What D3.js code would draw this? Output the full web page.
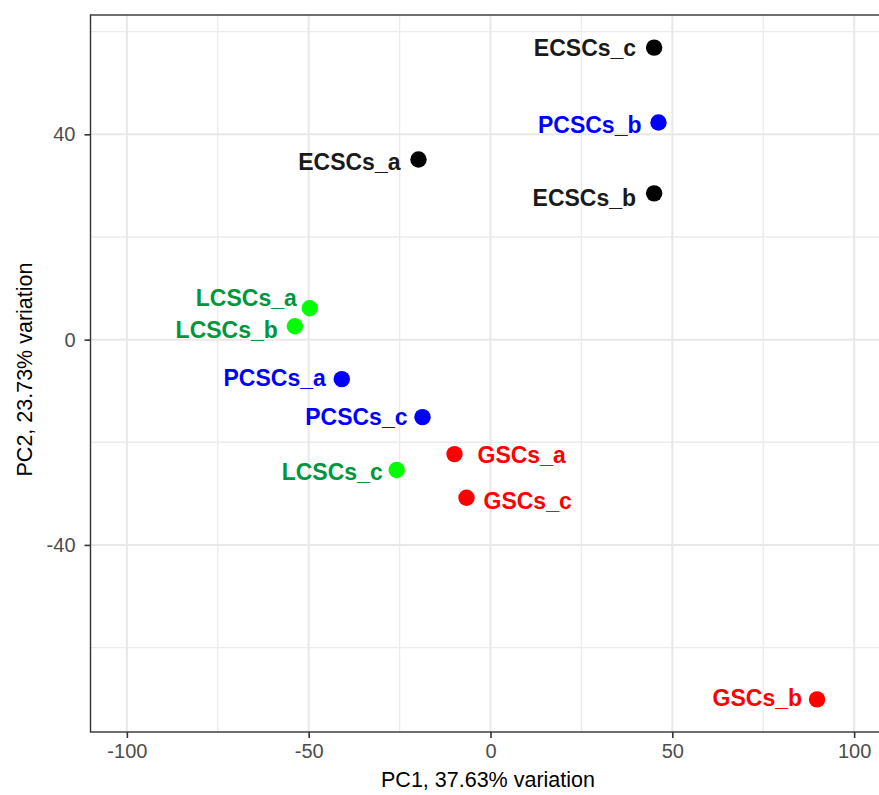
<!DOCTYPE html>
<html>
<head>
<meta charset="utf-8">
<script src="https://cdn.jsdelivr.net/npm/d3@7"></script>
<style>
  html, body { margin: 0; padding: 0; background: #fff; }
  svg { display: block; font-family: "Liberation Sans", Arial, Helvetica, sans-serif; }
</style>
</head>
<body>
<svg id="chart" width="879" height="795"></svg>
<script>
// ---- data ----
const samples = ["ECSCs_c", "PCSCs_b", "ECSCs_b", "ECSCs_a", "LCSCs_a", "LCSCs_b",
                 "PCSCs_a", "PCSCs_c", "LCSCs_c", "GSCs_a", "GSCs_c", "GSCs_b"];
const groups  = ["ECSCs", "PCSCs", "ECSCs", "ECSCs", "LCSCs", "LCSCs",
                 "PCSCs", "PCSCs", "LCSCs", "GSCs", "GSCs", "GSCs"];
const pc1 = [45.0, 46.2, 45.0, -19.8, -49.7, -53.8, -40.9, -18.7, -25.8, -9.9, -6.6, 89.8];
const pc2 = [56.9, 42.3, 28.5, 35.1, 6.1, 2.6, -7.7, -15.1, -25.4, -22.3, -30.8, -70.1];
const xTicks = [-100, -50, 0, 50, 100];
const xMinor = [-75, -25, 25, 75];
const yTicks = [-40, 0, 40];
const yMinor = [-60, -20, 20, 60];
const xTitle = "PC1, 37.63% variation";
const yTitle = "PC2, 23.73% variation";

// ---- styling / layout (not data) ----
const pointColor = { ECSCs: "#000000", PCSCs: "#0000ff", LCSCs: "#00ff00", GSCs: "#ff0000" };
const labelColor = { ECSCs: "#1a1a1a", PCSCs: "#0000ff", LCSCs: "#00963c", GSCs: "#ff0000" };
// label nudges (px) relative to point, side: -1 left, 1 right
const labelNudge = [
  [-18, 0, -1], [-17, 2, -1], [-18, 4, -1], [-18, 2, -1], [-13, -11, -1], [-17, 3, -1],
  [-16, -1, -1], [-15, 0, -1], [-14, 2, -1], [23, 1, 1], [17, 3, 1], [-15, -2, -1]
];

const panel = { left: 90.5, top: 15, right: 890.5, bottom: 732 };

const svg = d3.select("#chart");

const x = d3.scaleLinear().domain([-110, 110]).range([panel.left, panel.right]);
const [ymin, ymax] = d3.extent(pc2);
const yexp = (ymax - ymin) * 0.05;
const y = d3.scaleLinear().domain([ymin - yexp, ymax + yexp]).range([panel.bottom, panel.top]);

const pts = samples.map((s, i) => ({ s, g: groups[i], x: pc1[i], y: pc2[i], n: labelNudge[i] }));

// clip
svg.append("defs").append("clipPath").attr("id", "clip")
  .append("rect").attr("x", panel.left).attr("y", panel.top)
  .attr("width", panel.right - panel.left).attr("height", panel.bottom - panel.top);

const grid = svg.append("g").attr("clip-path", "url(#clip)");
grid.selectAll(".xminor").data(xMinor).join("line")
  .attr("x1", d => x(d)).attr("x2", d => x(d))
  .attr("y1", panel.top).attr("y2", panel.bottom)
  .attr("stroke", "#ebebeb").attr("stroke-width", 1.3);
grid.selectAll(".yminor").data(yMinor).join("line")
  .attr("y1", d => y(d)).attr("y2", d => y(d))
  .attr("x1", panel.left).attr("x2", panel.right)
  .attr("stroke", "#ebebeb").attr("stroke-width", 1.3);
grid.selectAll(".xmajor").data(xTicks).join("line")
  .attr("x1", d => x(d)).attr("x2", d => x(d))
  .attr("y1", panel.top).attr("y2", panel.bottom)
  .attr("stroke", "#e8e8e8").attr("stroke-width", 2);
grid.selectAll(".ymajor").data(yTicks).join("line")
  .attr("y1", d => y(d)).attr("y2", d => y(d))
  .attr("x1", panel.left).attr("x2", panel.right)
  .attr("stroke", "#e8e8e8").attr("stroke-width", 2);

// axes
const fmt = d => String(d);
const xAxis = d3.axisBottom(x).tickValues(xTicks).tickSize(6).tickPadding(6).tickFormat(fmt);
const yAxis = d3.axisLeft(y).tickValues(yTicks).tickSize(6).tickPadding(9).tickFormat(fmt);

const gx = svg.append("g").attr("transform", `translate(0,${panel.bottom})`).call(xAxis);
const gy = svg.append("g").attr("transform", `translate(${panel.left},0)`).call(yAxis);
[gx, gy].forEach(g => {
  g.select(".domain").remove();
  g.selectAll(".tick line").attr("stroke", "#333333").attr("stroke-width", 1.6);
  g.selectAll(".tick text").attr("fill", "#4d4d4d").style("font-size", "20px")
    .style("font-family", "'Liberation Sans', Arial, sans-serif");
});

// panel border
svg.append("rect")
  .attr("x", panel.left).attr("y", panel.top)
  .attr("width", panel.right - panel.left).attr("height", panel.bottom - panel.top)
  .attr("fill", "none").attr("stroke", "#333333").attr("stroke-width", 1.4);

// points
const plot = svg.append("g").attr("clip-path", "url(#clip)");
plot.selectAll("circle").data(pts).join("circle")
  .attr("cx", d => x(d.x)).attr("cy", d => y(d.y)).attr("r", 8.2)
  .attr("fill", d => pointColor[d.g]);

// labels
svg.append("g").selectAll("text").data(pts).join("text")
  .attr("x", d => x(d.x) + d.n[0])
  .attr("y", d => y(d.y) + d.n[1])
  .attr("dy", "0.36em")
  .attr("text-anchor", d => d.n[2] < 0 ? "end" : "start")
  .attr("fill", d => labelColor[d.g])
  .style("font-size", "23px").style("font-weight", "bold")
  .text(d => d.s);

// axis titles
svg.append("text")
  .attr("x", 488).attr("y", 787)
  .attr("text-anchor", "middle").attr("fill", "#000")
  .style("font-size", "21.5px").text(xTitle);
svg.append("text")
  .attr("transform", `translate(32,${(panel.top + panel.bottom) / 2 - 4}) rotate(-90)`)
  .attr("text-anchor", "middle").attr("fill", "#000")
  .style("font-size", "21.5px").text(yTitle);
</script>
</body>
</html>
